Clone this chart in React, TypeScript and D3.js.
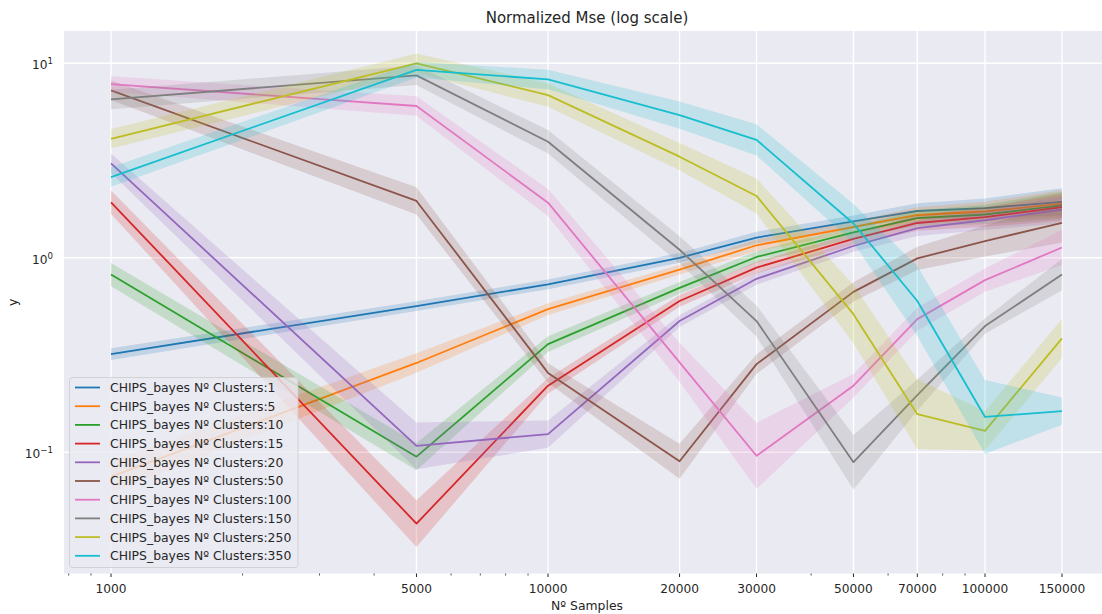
import React, { useEffect, useRef } from "react";
import * as d3 from "d3";

// x values (number of samples)
const samples = [1000, 5000, 10000, 20000, 30000, 50000, 70000, 100000, 150000];
const clusterCounts = [1, 5, 10, 15, 20, 50, 100, 150, 250, 350];
const xTickValues = [1000, 5000, 10000, 20000, 30000, 50000, 70000, 100000, 150000];
const yTickValues = [0.1, 1, 10];

// mean normalized mse per cluster count
const mse1 = [0.32, 0.565, 0.73, 1.0, 1.27, 1.54, 1.74, 1.8, 1.94];
const mse5 = [0.075, 0.288, 0.545, 0.87, 1.16, 1.44, 1.66, 1.73, 1.9];
const mse10 = [0.82, 0.095, 0.36, 0.7, 1.01, 1.35, 1.6, 1.67, 1.86];
const mse15 = [1.93, 0.043, 0.22, 0.6, 0.89, 1.25, 1.51, 1.62, 1.82];
const mse20 = [3.06, 0.108, 0.124, 0.473, 0.78, 1.15, 1.42, 1.56, 1.77];
const mse50 = [7.26, 1.96, 0.256, 0.09, 0.284, 0.668, 0.993, 1.22, 1.51];
const mse100 = [7.82, 6.03, 1.92, 0.29, 0.096, 0.22, 0.484, 0.768, 1.13];
const mse150 = [6.52, 8.67, 3.95, 1.1, 0.473, 0.089, 0.197, 0.446, 0.82];
const mse250 = [4.09, 10.0, 6.86, 3.31, 2.08, 0.513, 0.157, 0.129, 0.385];
const mse350 = [2.6, 9.26, 8.26, 5.42, 4.04, 1.5, 0.6, 0.152, 0.163];

// confidence half-widths (log10 units)
const ci1 = [0.03, 0.025, 0.025, 0.025, 0.03, 0.03, 0.04, 0.05, 0.07];
const ci5 = [0.08, 0.05, 0.03, 0.025, 0.03, 0.03, 0.04, 0.05, 0.07];
const ci10 = [0.06, 0.07, 0.04, 0.03, 0.03, 0.03, 0.04, 0.05, 0.07];
const ci15 = [0.06, 0.12, 0.04, 0.03, 0.03, 0.03, 0.04, 0.05, 0.07];
const ci20 = [0.05, 0.12, 0.07, 0.03, 0.03, 0.03, 0.04, 0.05, 0.07];
const ci50 = [0.05, 0.07, 0.05, 0.09, 0.05, 0.05, 0.06, 0.08, 0.1];
const ci100 = [0.04, 0.05, 0.07, 0.1, 0.17, 0.06, 0.06, 0.06, 0.09];
const ci150 = [0.05, 0.05, 0.06, 0.07, 0.08, 0.14, 0.08, 0.04, 0.08];
const ci250 = [0.05, 0.05, 0.06, 0.07, 0.09, 0.15, 0.18, 0.1, 0.1];
const ci350 = [0.05, 0.04, 0.05, 0.07, 0.08, 0.1, 0.18, 0.19, 0.07];

const means = [mse1, mse5, mse10, mse15, mse20, mse50, mse100, mse150, mse250, mse350];
const cis = [ci1, ci5, ci10, ci15, ci20, ci50, ci100, ci150, ci250, ci350];

const colors = d3.schemeCategory10;

export default function App() {
  const ref = useRef<SVGSVGElement>(null);

  useEffect(() => {
    const width = 1102;
    const height = 614;
    const margin = { left: 64, top: 31, right: 1110, bottom: 573.5 };

    const svg = d3.select(ref.current);
    svg.selectAll("*").remove();
    svg.attr("width", width).attr("height", height);

    const x = d3
      .scaleLog()
      .domain([Math.pow(10, 2.8924), Math.pow(10, 5.286)])
      .range([margin.left, margin.right]);
    const y = d3
      .scaleLog()
      .domain([Math.pow(10, -1.623), Math.pow(10, 1.166)])
      .range([margin.bottom, margin.top]);

    const font = "DejaVu Sans, sans-serif";
    const textColor = "#262626";

    svg
      .append("rect")
      .attr("x", margin.left)
      .attr("y", margin.top)
      .attr("width", margin.right - margin.left)
      .attr("height", margin.bottom - margin.top)
      .attr("fill", "#EAEAF2");

    svg
      .append("defs")
      .append("clipPath")
      .attr("id", "plot-clip")
      .append("rect")
      .attr("x", margin.left)
      .attr("y", margin.top)
      .attr("width", margin.right - margin.left)
      .attr("height", margin.bottom - margin.top);

    // grid
    const grid = svg.append("g").attr("stroke", "white").attr("stroke-width", 1.4);
    grid
      .selectAll("line.gx")
      .data(xTickValues)
      .enter()
      .append("line")
      .attr("x1", (d) => x(d))
      .attr("x2", (d) => x(d))
      .attr("y1", margin.top)
      .attr("y2", margin.bottom);
    grid
      .selectAll("line.gy")
      .data(yTickValues)
      .enter()
      .append("line")
      .attr("x1", margin.left)
      .attr("x2", margin.right)
      .attr("y1", (d) => y(d))
      .attr("y2", (d) => y(d));

    // series: line then its confidence band
    const plot = svg.append("g").attr("clip-path", "url(#plot-clip)");
    const line = d3
      .line<number>()
      .x((d, i) => x(samples[i]))
      .y((d) => y(d));

    means.forEach((vals, s) => {
      const band = d3
        .area<number>()
        .x((d, i) => x(samples[i]))
        .y0((d, i) => y(d * Math.pow(10, -cis[s][i])))
        .y1((d, i) => y(d * Math.pow(10, cis[s][i])));
      plot
        .append("path")
        .datum(vals)
        .attr("fill", "none")
        .attr("stroke", colors[s])
        .attr("stroke-width", 1.8)
        .attr("stroke-linejoin", "round")
        .attr("d", line);
      plot
        .append("path")
        .datum(vals)
        .attr("fill", colors[s])
        .attr("fill-opacity", 0.2)
        .attr("d", band);
    });

    // x ticks (major + log minor)
    const minor: number[] = [];
    [100, 1000, 10000, 100000].forEach((dec) => {
      for (let k = 1; k < 10; k++) {
        const v = dec * k;
        if (v >= x.domain()[0] && v <= x.domain()[1] && !xTickValues.includes(v)) minor.push(v);
      }
    });
    const ticks = svg.append("g").attr("stroke", textColor);
    ticks
      .selectAll("line.minor")
      .data(minor)
      .enter()
      .append("line")
      .attr("x1", (d) => x(d))
      .attr("x2", (d) => x(d))
      .attr("y1", margin.bottom)
      .attr("y2", margin.bottom + 2)
      .attr("stroke-width", 0.8);
    ticks
      .selectAll("line.major")
      .data(xTickValues)
      .enter()
      .append("line")
      .attr("x1", (d) => x(d))
      .attr("x2", (d) => x(d))
      .attr("y1", margin.bottom)
      .attr("y2", margin.bottom + 3.5)
      .attr("stroke-width", 1);

    svg
      .append("g")
      .attr("font-family", font)
      .attr("font-size", 12.2)
      .attr("fill", textColor)
      .attr("text-anchor", "middle")
      .selectAll("text")
      .data(xTickValues)
      .enter()
      .append("text")
      .attr("x", (d) => x(d))
      .attr("y", 593)
      .text((d) => String(d));

    // y tick labels 10^n
    const yLabels = svg
      .append("g")
      .attr("font-family", font)
      .attr("font-size", 12.2)
      .attr("fill", textColor)
      .attr("text-anchor", "end")
      .selectAll("text")
      .data(yTickValues)
      .enter()
      .append("text")
      .attr("x", 53)
      .attr("y", (d) => y(d) + 6);
    yLabels.append("tspan").text("10");
    yLabels
      .append("tspan")
      .attr("font-size", 8.6)
      .attr("dy", -5)
      .text((d) => (Math.log10(d) < 0 ? "\u2212" : "") + Math.abs(Math.round(Math.log10(d))));

    // title and axis labels
    svg
      .append("text")
      .attr("x", (margin.left + margin.right) / 2)
      .attr("y", 23)
      .attr("text-anchor", "middle")
      .attr("font-family", font)
      .attr("font-size", 15)
      .attr("fill", textColor)
      .text("Normalized Mse (log scale)");
    svg
      .append("text")
      .attr("x", (margin.left + margin.right) / 2)
      .attr("y", 610)
      .attr("text-anchor", "middle")
      .attr("font-family", font)
      .attr("font-size", 12.4)
      .attr("fill", textColor)
      .text("Nº Samples");
    svg
      .append("text")
      .attr("transform", `translate(17, ${(margin.top + margin.bottom) / 2}) rotate(-90)`)
      .attr("text-anchor", "middle")
      .attr("font-family", font)
      .attr("font-size", 12.4)
      .attr("fill", textColor)
      .text("y");

    // legend
    const legend = svg.append("g");
    legend
      .append("rect")
      .attr("x", 69.5)
      .attr("y", 377.5)
      .attr("width", 228.5)
      .attr("height", 190)
      .attr("rx", 3)
      .attr("fill", "#EAEAF2")
      .attr("fill-opacity", 0.8)
      .attr("stroke", "#cccccc")
      .attr("stroke-width", 0.8);
    const rows = legend
      .selectAll("g.row")
      .data(clusterCounts)
      .enter()
      .append("g")
      .attr("transform", (d, i) => `translate(0, ${387.5 + i * 18.7})`);
    rows
      .append("line")
      .attr("x1", 75)
      .attr("x2", 100)
      .attr("stroke", (d, i) => colors[i])
      .attr("stroke-width", 1.8);
    rows
      .append("text")
      .attr("x", 110)
      .attr("y", 4.4)
      .attr("font-family", font)
      .attr("font-size", 12.4)
      .attr("fill", textColor)
      .text((d) => `CHIPS_bayes Nº Clusters:${d}`);
  }, []);

  return <svg ref={ref} style={{ position: "absolute", left: 0, top: 0 }}></svg>;
}
